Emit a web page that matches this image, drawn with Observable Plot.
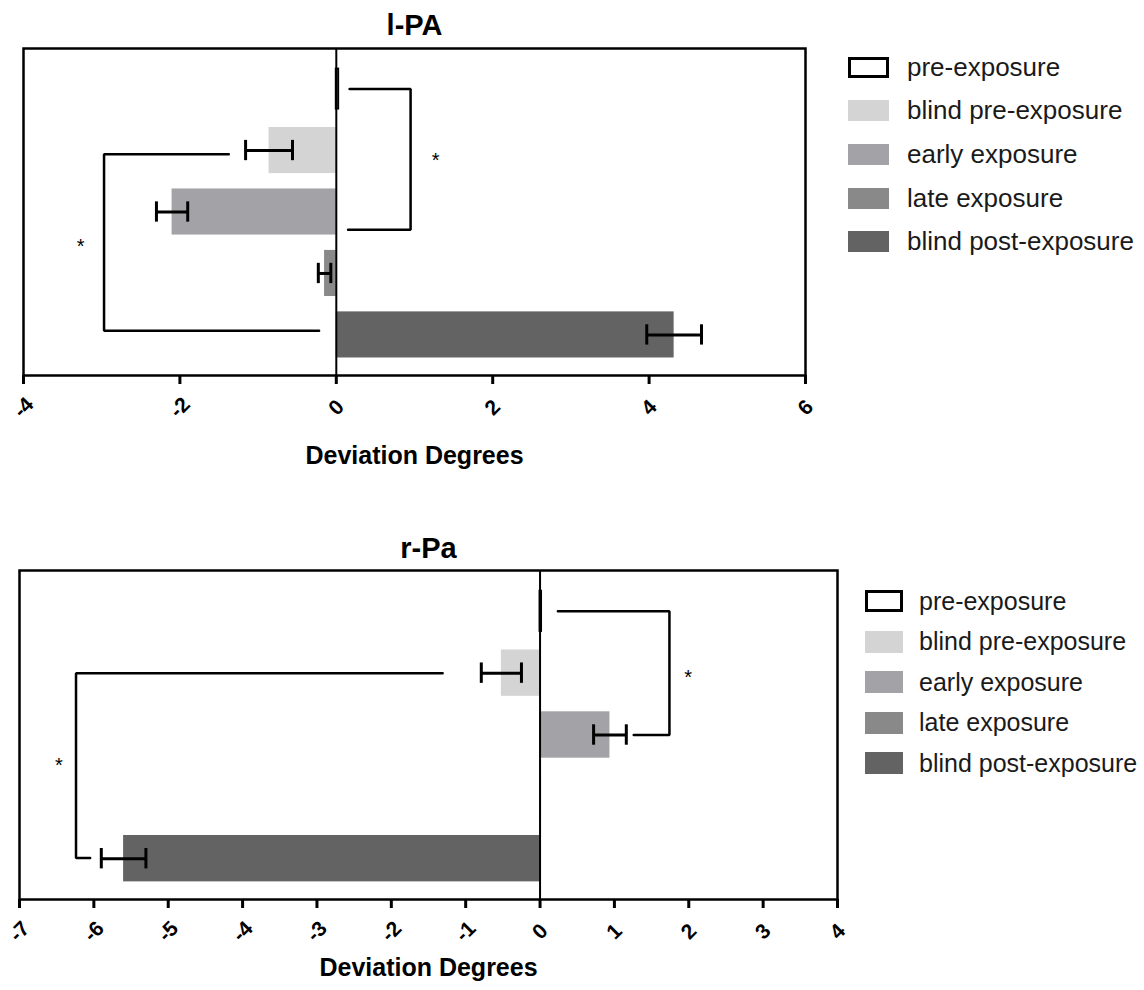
<!DOCTYPE html>
<html>
<head>
<meta charset="utf-8">
<script src="https://cdn.jsdelivr.net/npm/d3@7"></script>
<script src="https://cdn.jsdelivr.net/npm/@observablehq/plot@0.6"></script>
<style>
  body { margin: 0; background: #fff; font-family: "Liberation Sans", Arial, Helvetica, sans-serif; }
  #page { position: relative; width: 1144px; height: 990px; overflow: hidden; background: #fff; }
  .chart { position: absolute; left: 0; }
  .row { position: absolute; display: flex; align-items: center; white-space: nowrap; color: #1a1a1a; }
  .sw { box-sizing: border-box; flex: none; }
</style>
</head>
<body>
<div id="page"></div>
<script>
// ---- data ----
const categories = ["pre-exposure", "blind pre-exposure", "early exposure", "late exposure", "blind post-exposure"];
const colors = ["#ffffff", "#d4d4d4", "#a3a3a7", "#898989", "#636363"];
const outlined = [true, false, false, false, false];

// l-PA
const lpaTitle = "l-PA";
const lpaMeans = [0.03, -0.86, -2.1, -0.15, 4.32];
const lpaErrors = [0, 0.3, 0.2, 0.08, 0.35];
const lpaTicks = [-4, -2, 0, 2, 4, 6];
// significance brackets: y in category-index units, x in degrees
const lpaBrackets = [
  { from: 0, to: 2.29, x: 0.95, fromEnd: 0.17, toEnd: 0.15 },
  { from: 1.06, to: 3.93, x: -2.97, fromEnd: -1.375, toEnd: -0.22 }
];
const lpaStars = [{ x: 1.27, y: 1.17 }, { x: -3.27, y: 2.56 }];

// r-Pa
const rpaTitle = "r-Pa";
const rpaMeans = [0.02, -0.52, 0.94, 0.02, -5.6];
const rpaErrors = [0, 0.27, 0.22, 0, 0.3];
const rpaTicks = [-7, -6, -5, -4, -3, -2, -1, 0, 1, 2, 3, 4];
const rpaBrackets = [
  { from: 0, to: 2, x: 1.74, fromEnd: 0.24, toEnd: 1.26 },
  { from: 1, to: 3.99, x: -6.24, fromEnd: -1.31, toEnd: -6.05 }
];
const rpaStars = [{ x: 1.99, y: 1.07 }, { x: -6.47, y: 2.5 }];

const axisTitle = "Deviation Degrees";

// ---- drawing ----
const FONT = "'Liberation Sans', Arial, Helvetica, sans-serif";
const HALF = 0.375;   // half bar thickness in category units
const CAP = 0.165;    // half error-cap height in category units

function buildChart(cfg) {
  const rows = categories.map((c, i) => ({
    category: c, i, mean: cfg.means[i], err: cfg.errors[i], color: colors[i], outlined: outlined[i]
  }));
  const errRows = rows.filter(d => d.err > 0);
  const bracketPts = cfg.brackets.flatMap((b, k) => [
    { k, x: b.fromEnd, y: b.from },
    { k, x: b.x, y: b.from },
    { k, x: b.x, y: b.to },
    { k, x: b.toEnd, y: b.to }
  ]);
  return Plot.plot({
    width: 1144,
    height: cfg.height,
    marginLeft: cfg.marginLeft,
    marginRight: cfg.marginRight,
    marginTop: cfg.marginTop,
    marginBottom: cfg.marginBottom,
    style: { fontFamily: FONT, background: "transparent", overflow: "visible", color: "#000" },
    x: { domain: cfg.domain },
    y: { domain: [-0.66, 4.66], reverse: true, axis: null },
    color: { type: "identity" },
    marks: [
      Plot.rect(rows.filter(d => !d.outlined), {
        x1: 0, x2: "mean", y1: d => d.i - HALF, y2: d => d.i + HALF, fill: "color"
      }),
      Plot.rect(rows.filter(d => d.outlined), {
        x1: 0, x2: "mean", y1: d => d.i - HALF + 0.05, y2: d => d.i + HALF - 0.05,
        fill: "#fff", stroke: "#000", strokeWidth: 2
      }),
      Plot.ruleX([0], { stroke: "#000", strokeWidth: 2 }),
      Plot.ruleY(errRows, { y: "i", x1: d => d.mean - d.err, x2: d => d.mean + d.err, stroke: "#000", strokeWidth: 3 }),
      Plot.ruleX(errRows, { x: d => d.mean - d.err, y1: d => d.i - CAP, y2: d => d.i + CAP, stroke: "#000", strokeWidth: 3 }),
      Plot.ruleX(errRows, { x: d => d.mean + d.err, y1: d => d.i - CAP, y2: d => d.i + CAP, stroke: "#000", strokeWidth: 3 }),
      Plot.line(bracketPts, { x: "x", y: "y", z: "k", stroke: "#000", strokeWidth: 2.5, strokeLinejoin: "miter", curve: "linear" }),
      Plot.text(cfg.stars, { x: "x", y: "y", text: () => "*", fontSize: 20, fill: "#000" }),
      Plot.frame({ stroke: "#000", strokeWidth: 2.5 }),
      Plot.axisX({ ticks: cfg.ticks, tickSize: 9, fill: "none", stroke: "#000", strokeWidth: 3, label: null }),
      Plot.text(cfg.ticks, {
        x: d => d, text: d => String(d), frameAnchor: "bottom", lineAnchor: "middle", dy: 32, rotate: -45,
        fontSize: 21, fontWeight: "bold", fill: "#000"
      }),
      Plot.text([cfg.title], {
        text: d => d, frameAnchor: "top", lineAnchor: "middle", dy: cfg.titleDy,
        fontSize: 29, fontWeight: "bold", fill: "#000"
      }),
      Plot.text([axisTitle], {
        text: d => d, frameAnchor: "bottom", lineAnchor: "middle", dy: cfg.labelDy,
        fontSize: 25, fontWeight: "bold", fill: "#000"
      })
    ]
  });
}

function buildLegend(page, cfg) {
  categories.forEach((c, i) => {
    const row = document.createElement("div");
    row.className = "row";
    row.style.left = cfg.left + "px";
    row.style.top = (cfg.firstCenter + i * cfg.step - 20) + "px";
    row.style.height = "40px";
    const sw = document.createElement("div");
    sw.className = "sw";
    sw.style.width = cfg.swW + "px";
    sw.style.height = cfg.swH + "px";
    sw.style.background = colors[i];
    if (outlined[i]) sw.style.border = "3px solid #000";
    const label = document.createElement("span");
    label.textContent = c;
    label.style.marginLeft = cfg.gap + "px";
    label.style.fontSize = cfg.fontSize + "px";
    row.appendChild(sw);
    row.appendChild(label);
    page.appendChild(row);
  });
}

const page = document.getElementById("page");

const top1 = buildChart({
  title: lpaTitle, means: lpaMeans, errors: lpaErrors, ticks: lpaTicks, domain: [-4, 6],
  brackets: lpaBrackets, stars: lpaStars,
  height: 480, marginLeft: 23, marginRight: 339, marginTop: 48, marginBottom: 105,
  titleDy: -23, labelDy: 80
});
top1.classList.add("chart");
top1.style.top = "0px";
page.appendChild(top1);

const bot = buildChart({
  title: rpaTitle, means: rpaMeans, errors: rpaErrors, ticks: rpaTicks, domain: [-7, 4],
  brackets: rpaBrackets, stars: rpaStars,
  height: 500, marginLeft: 19, marginRight: 307, marginTop: 80, marginBottom: 91,
  titleDy: -22, labelDy: 68
});
bot.classList.add("chart");
bot.style.top = "490px";
page.appendChild(bot);

buildLegend(page, { left: 848, firstCenter: 67, step: 43.7, swW: 41, swH: 21, gap: 18, fontSize: 26 });
buildLegend(page, { left: 865, firstCenter: 601, step: 40.6, swW: 38, swH: 22, gap: 16, fontSize: 25 });
</script>
</body>
</html>
